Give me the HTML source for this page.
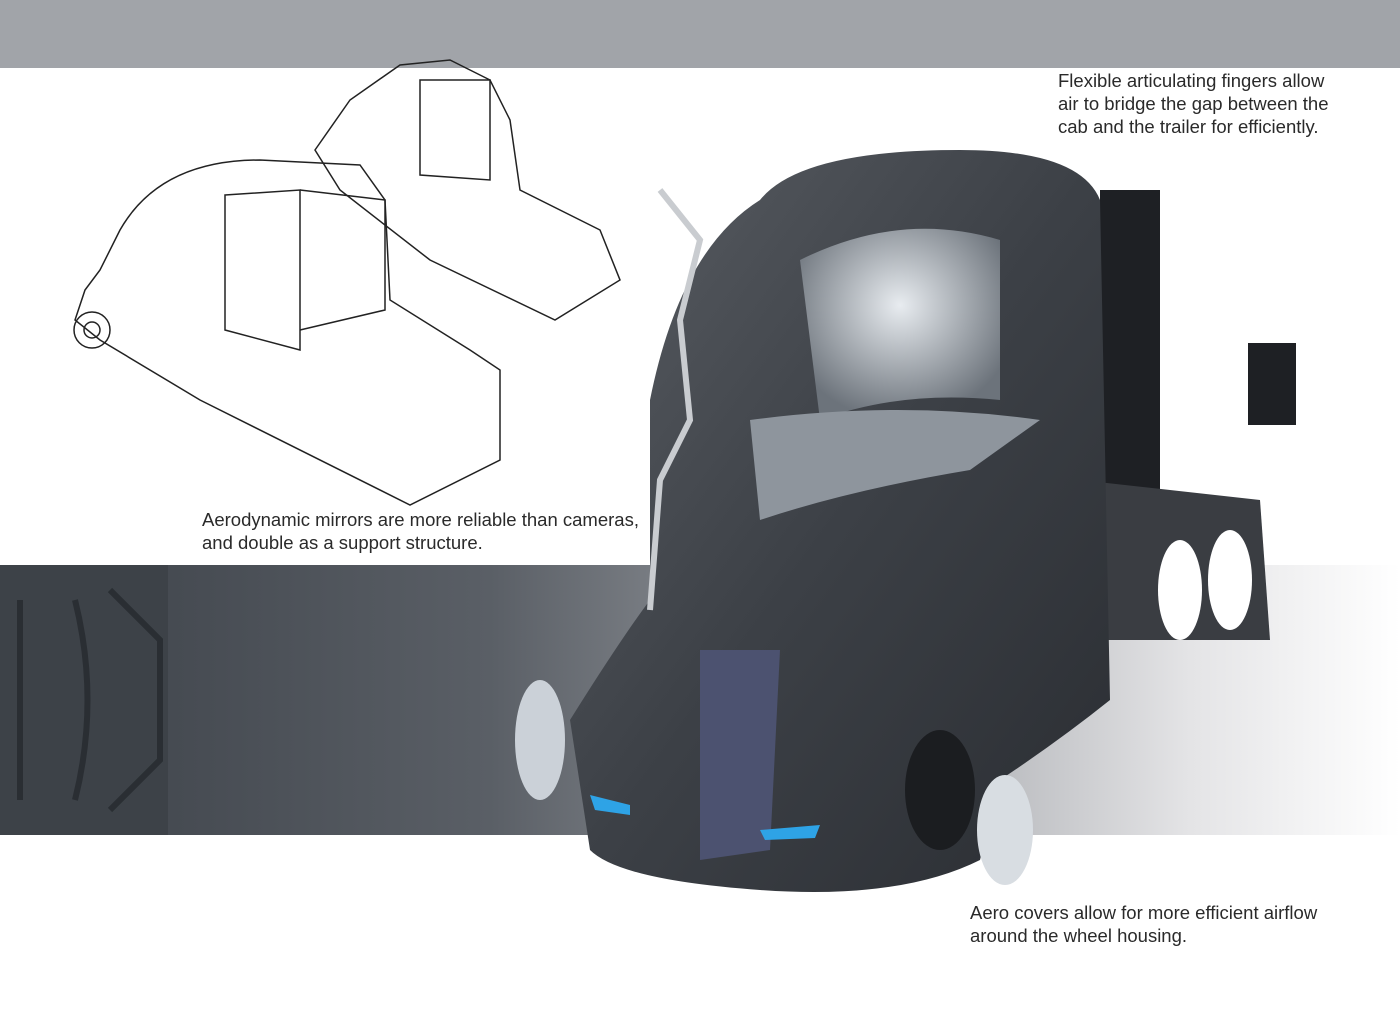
<!DOCTYPE html>
<html><head><meta charset="utf-8"><style>
html,body{margin:0;padding:0}
body{width:1400px;height:1017px;position:relative;overflow:hidden;background:#fff;font-family:"Liberation Sans",sans-serif}
.t{position:absolute;font-size:18.5px;line-height:23px;color:#2a2a2a}
</style></head><body>
<svg width="1400" height="1017" style="position:absolute;left:0;top:0">
<defs>
<linearGradient id="band" x1="0" x2="1" y1="0" y2="0">
<stop offset="0" stop-color="#3b4047"/><stop offset="0.35" stop-color="#5a5f66"/><stop offset="0.6" stop-color="#9a9da2"/><stop offset="0.85" stop-color="#e4e4e6"/><stop offset="1" stop-color="#fff"/></linearGradient>
<linearGradient id="cab" x1="0" x2="1" y1="0" y2="1">
<stop offset="0" stop-color="#5a5e64"/><stop offset="0.5" stop-color="#3c4046"/><stop offset="1" stop-color="#2a2d32"/></linearGradient>
<radialGradient id="glass" cx="0.5" cy="0.4" r="0.6"><stop offset="0" stop-color="#e8ecf0"/><stop offset="1" stop-color="#6c737b"/></radialGradient>
</defs>
<rect x="0" y="0" width="1400" height="68" fill="#a1a4a9"/>
<rect x="0" y="565" width="1400" height="270" fill="url(#band)"/>
<rect x="0" y="565" width="168" height="270" fill="#3d4248"/>
<path d="M20 600 L20 800 M75 600 Q100 700 75 800 M110 590 L160 640 L160 760 L110 810" stroke="#2a2e33" stroke-width="6" fill="none"/>
<g stroke="#222" stroke-width="1.5" fill="none">
<path d="M120 230 Q160 160 260 160 L360 165 L385 200 L390 300 L470 350 L500 370 L500 460 L410 505 L200 400 L100 340 L75 320 L85 290 L100 270 Z"/>
<path d="M225 195 L300 190 L300 350 L225 330 Z"/><path d="M300 190 L385 200 L385 310 L300 330"/>
<path d="M315 150 L350 100 L400 65 L450 60 L490 80 L510 120 L520 190 L600 230 L620 280 L555 320 L430 260 L340 190 Z"/>
<path d="M420 80 L490 80 L490 180 L420 175 Z"/>
<circle cx="92" cy="330" r="18"/><circle cx="92" cy="330" r="8"/>
</g>
<g fill="#1e2024">
<rect x="1080" y="150" width="80" height="30" transform="skewY(3)"/>
<rect x="1100" y="190" width="60" height="250"/>
<rect x="1090" y="440" width="70" height="150"/>
<rect x="1248" y="343" width="48" height="82"/>
</g>
<path d="M1080 480 L1260 500 L1270 640 L1100 640 Z" fill="#3a3d42"/>
<ellipse cx="1230" cy="580" rx="22" ry="50" fill="#fff"/><ellipse cx="1180" cy="590" rx="22" ry="50" fill="#fff"/>
<path d="M760 200 Q800 150 960 150 Q1080 150 1100 200 L1110 700 Q1060 740 1000 780 L980 860 Q900 900 760 890 Q620 880 590 850 L570 720 Q620 640 650 600 L650 400 Q680 250 760 200 Z" fill="url(#cab)"/>
<path d="M800 260 Q900 210 1000 240 L1000 400 Q900 390 820 420 Z" fill="url(#glass)"/>
<path d="M750 420 Q900 400 1040 420 L970 470 Q850 490 760 520 Z" fill="#8e959d"/>
<path d="M660 190 L700 240 L680 320 L690 420 L660 480 L650 610" stroke="#c9ccd0" stroke-width="6" fill="none"/>
<path d="M700 650 L780 650 L770 850 L700 860 Z" fill="#4c5270"/>
<path d="M590 795 L630 805 L630 815 L595 810 Z M760 830 L820 825 L815 838 L765 840 Z" fill="#2ea3e6"/>
<ellipse cx="540" cy="740" rx="25" ry="60" fill="#cbd1d8"/>
<ellipse cx="940" cy="790" rx="35" ry="60" fill="#1b1d20"/>
<ellipse cx="1005" cy="830" rx="28" ry="55" fill="#d8dde2"/>
</svg>
<div class="t" style="left:1058px;top:69px">Flexible articulating fingers allow<br>air to bridge the gap between the<br>cab and the trailer for efficiently.</div>
<div class="t" style="left:202px;top:508px">Aerodynamic mirrors are more reliable than cameras,<br>and double as a support structure.</div>
<div class="t" style="left:970px;top:901px">Aero covers allow for more efficient airflow<br>around the wheel housing.</div>
</body></html>
